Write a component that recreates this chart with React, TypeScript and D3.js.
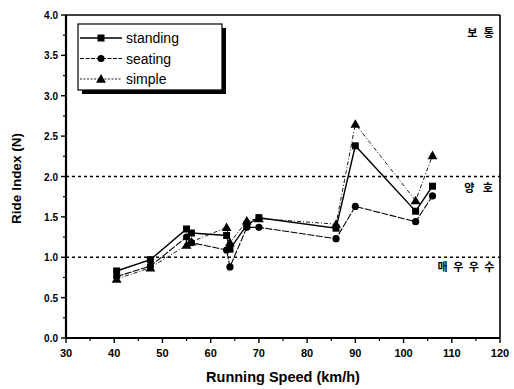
import React from "react";
import * as d3 from "d3";

// Running speed (km/h) for each measurement run
const speeds = [40.5, 47.5, 55, 56, 63.3, 64, 67.5, 70, 86, 90, 102.5, 106];

// Ride index N per posture
const standing = [0.83, 0.97, 1.35, 1.3, 1.27, 1.1, 1.4, 1.49, 1.36, 2.38, 1.57, 1.88];
const seating = [0.76, 0.89, 1.25, 1.18, 1.09, 0.88, 1.37, 1.37, 1.23, 1.63, 1.44, 1.76];
const simple = [0.73, 0.87, 1.15, 1.19, 1.37, 1.18, 1.45, 1.48, 1.41, 2.65, 1.7, 2.26];

const seriesNames = ["standing", "seating", "simple"];
const xTicks = [30, 40, 50, 60, 70, 80, 90, 100, 110, 120];
const yTicks = [0, 0.5, 1, 1.5, 2, 2.5, 3, 3.5, 4];
const thresholds = [1, 2];
const zoneLabels = ["보 통", "양 호", "매 우 우 수"];

const W = 514;
const H = 389;
const M = { left: 66, right: 500, top: 15, bottom: 338 };

type Marker = "square" | "circle" | "triangle";

function MarkerShape({ kind, x, y }: { kind: Marker; x: number; y: number }) {
  if (kind === "square") return <rect x={x - 3.5} y={y - 3.5} width={7} height={7} fill="#000" />;
  if (kind === "circle") return <circle cx={x} cy={y} r={3.6} fill="#000" />;
  const p = d3.symbol(d3.symbolTriangle, 42)() as string;
  return <path d={p} transform={`translate(${x},${y + 0.8})`} fill="#000" />;
}

export default function App() {
  const x = d3.scaleLinear().domain([30, 120]).range([M.left, M.right]);
  const y = d3.scaleLinear().domain([0, 4]).range([M.bottom, M.top]);
  const series = [
    { name: seriesNames[0], values: standing, marker: "square" as Marker, dash: "none", legendDash: "none", width: 1.4 },
    { name: seriesNames[1], values: seating, marker: "circle" as Marker, dash: "7,1.5", legendDash: "4,1.5", width: 1.1 },
    { name: seriesNames[2], values: simple, marker: "triangle" as Marker, dash: "4,2,1,2", legendDash: "2,1.5", width: 0.9 },
  ];
  const line = d3
    .line<[number, number]>()
    .x((d) => x(d[0]))
    .y((d) => y(d[1]));

  const xMinor = d3.range(35, 120, 10);
  const yMinor = d3.range(0.25, 4, 0.5);
  const font = "Arial, 'Liberation Sans', sans-serif";
  const kfont = "'Noto Sans CJK KR', sans-serif";

  return (
    <svg width={W} height={H} style={{ position: "absolute", left: 0, top: 0, background: "#fff" }}>
      {/* threshold lines */}
      {thresholds.map((t) => (
        <line key={t} x1={M.left} x2={M.right} y1={y(t)} y2={y(t)} stroke="#000" strokeWidth={1.6} strokeDasharray="3,3" />
      ))}

      {/* series */}
      {series.map((s) => (
        <g key={s.name}>
          <path
            d={line(speeds.map((v, i) => [v, s.values[i]] as [number, number])) as string}
            fill="none"
            stroke="#000"
            strokeWidth={s.width}
            strokeDasharray={s.dash}
          />
          {speeds.map((v, i) => (
            <MarkerShape key={i} kind={s.marker} x={x(v)} y={y(s.values[i])} />
          ))}
        </g>
      ))}

      {/* frame */}
      <line x1={M.left} x2={M.right} y1={M.top} y2={M.top} stroke="#000" strokeWidth={1.6} />
      <line x1={M.right} x2={M.right} y1={M.top} y2={M.bottom} stroke="#000" strokeWidth={1.6} />
      <line x1={M.left} x2={M.left} y1={M.top} y2={M.bottom} stroke="#000" strokeWidth={2.2} />
      <line x1={M.left} x2={M.right} y1={M.bottom} y2={M.bottom} stroke="#000" strokeWidth={2.2} />

      {/* x axis */}
      {xTicks.map((t) => (
        <g key={t}>
          <line x1={x(t)} x2={x(t)} y1={M.bottom} y2={M.bottom + 5} stroke="#000" strokeWidth={1.4} />
          <text x={x(t)} y={M.bottom + 19} textAnchor="middle" fontFamily={font} fontWeight="bold" fontSize={11}>
            {t}
          </text>
        </g>
      ))}
      {xMinor.map((t) => (
        <line key={t} x1={x(t)} x2={x(t)} y1={M.bottom} y2={M.bottom + 3} stroke="#000" strokeWidth={1.2} />
      ))}

      {/* y axis */}
      {yTicks.map((t) => (
        <g key={t}>
          <line x1={M.left - 5} x2={M.left} y1={y(t)} y2={y(t)} stroke="#000" strokeWidth={1.4} />
          <text x={M.left - 8} y={y(t) + 4} textAnchor="end" fontFamily={font} fontWeight="bold" fontSize={10}>
            {t.toFixed(1)}
          </text>
        </g>
      ))}
      {yMinor.map((t) => (
        <line key={t} x1={M.left - 3} x2={M.left} y1={y(t)} y2={y(t)} stroke="#000" strokeWidth={1.2} />
      ))}

      {/* axis titles */}
      <text x={283} y={382} textAnchor="middle" fontFamily={font} fontWeight="bold" fontSize={14.5}>
        Running Speed (km/h)
      </text>
      <text
        transform={`translate(21,${(M.top + M.bottom) / 2 + 2}) rotate(-90)`}
        textAnchor="middle"
        fontFamily={font}
        fontWeight="bold"
        fontSize={13.5}
      >
        Ride Index (N)
      </text>

      {/* zone labels */}
      <text x={496} y={37} textAnchor="end" fontFamily={kfont} fontWeight="bold" fontSize={11} letterSpacing={2}>
        {zoneLabels[0]}
      </text>
      <text x={496} y={192} textAnchor="end" fontFamily={kfont} fontWeight="bold" fontSize={11} letterSpacing={3}>
        {zoneLabels[1]}
      </text>
      <text x={496} y={271} textAnchor="end" fontFamily={kfont} fontWeight="bold" fontSize={11} letterSpacing={1.5}>
        {zoneLabels[2]}
      </text>

      {/* legend */}
      <g>
        <rect x={82} y={28} width={144} height={66} fill="#000" />
        <rect x={78} y={24} width={144} height={66} fill="#fff" stroke="#000" strokeWidth={1.2} />
        {series.map((s, i) => {
          const ly = 38 + i * 20.5;
          return (
            <g key={s.name}>
              <line x1={80} x2={122} y1={ly} y2={ly} stroke="#000" strokeWidth={s.width} strokeDasharray={s.legendDash} />
              <MarkerShape kind={s.marker} x={101} y={ly} />
              <text x={126} y={ly + 5} fontFamily={font} fontSize={14}>
                {s.name}
              </text>
            </g>
          );
        })}
      </g>
    </svg>
  );
}
